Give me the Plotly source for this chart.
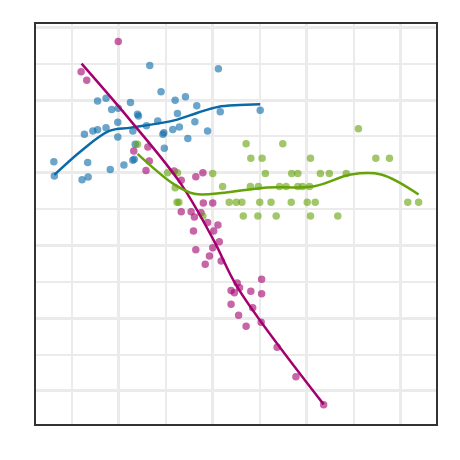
import plotly.graph_objects as go

# group A (blue)
blue_x = [0.62, 0.63, 1.22, 1.35, 1.34, 1.27, 1.45, 1.55, 1.73, 1.55, 1.73, 1.85, 1.99, 1.98, 1.98,
          2.11, 1.82, 2.25, 2.40, 2.42, 2.33, 2.35, 2.66, 2.59, 2.83, 2.90, 2.96, 2.94, 2.97, 3.20,
          3.25, 3.15, 3.29, 3.42, 3.47, 3.62, 3.66, 3.89, 4.12, 4.16, 5.01, 2.30, 2.30]
blue_y = [7.30, 6.91, 6.81, 6.88, 7.28, 8.06, 8.15, 8.18, 8.24, 8.97, 9.05, 8.74, 8.77, 8.39, 7.98,
          7.21, 7.09, 8.93, 8.61, 8.56, 7.37, 7.78, 9.95, 8.29, 8.42, 9.23, 8.10, 8.06, 7.67, 8.99,
          8.63, 8.19, 8.26, 9.09, 7.94, 8.40, 8.84, 8.15, 9.86, 8.68, 8.72, 8.15, 7.34]
blue_fit_x = [0.63, 1.2, 1.8, 2.26, 3.18, 3.68, 4.11, 5.01]
blue_fit_y = [6.94, 7.6, 8.15, 8.24, 8.44, 8.65, 8.81, 8.88]

# group B (magenta)
mag_x = [1.20, 1.32, 1.99, 2.58, 2.62, 2.65, 2.32, 3.18, 3.33, 3.64, 3.79, 3.80, 4.00, 3.33, 3.54,
         3.61, 3.75, 3.89, 4.11, 4.02, 3.59, 4.14, 4.00, 3.64, 3.93, 4.18, 3.84, 4.52, 4.39, 4.57,
         4.46, 4.81, 5.04, 5.04, 4.85, 4.39, 4.55, 4.71, 5.03, 5.37, 5.77, 6.36]
mag_y = [9.78, 9.54, 10.61, 7.06, 7.71, 7.32, 7.60, 7.05, 6.79, 6.89, 7.00, 6.17, 6.17, 5.93, 5.93,
         5.78, 5.90, 5.63, 5.56, 5.40, 5.40, 5.10, 4.94, 4.88, 4.71, 4.57, 4.48, 3.97, 3.76, 3.84,
         3.70, 3.74, 4.07, 3.67, 3.29, 3.38, 3.08, 2.78, 2.89, 2.20, 1.39, 0.62]
mag_fit_x = [1.21, 2.26, 3.33, 4.03, 4.53, 6.36]
mag_fit_y = [10.00, 8.42, 6.68, 5.12, 3.84, 0.63]

# group C (green)
green_x = [2.40, 4.71, 5.49, 7.10, 4.81, 5.05, 6.08, 7.47, 7.76, 3.04, 3.25, 4.00, 5.12, 5.68, 5.81,
           6.29, 6.48, 6.84, 4.21, 4.80, 4.97, 5.42, 5.56, 5.81, 5.91, 6.06, 3.24, 3.28, 4.35, 4.50,
           4.62, 5.00, 5.24, 5.67, 6.01, 6.18, 8.15, 8.38, 4.65, 4.96, 5.35, 6.08, 6.66, 3.79, 3.20]
green_y = [7.78, 7.80, 7.80, 8.21, 7.40, 7.40, 7.40, 7.40, 7.40, 7.00, 7.00, 6.98, 6.98, 6.98, 6.98,
           6.98, 6.98, 6.98, 6.62, 6.62, 6.62, 6.62, 6.62, 6.62, 6.62, 6.62, 6.19, 6.19, 6.19, 6.19,
           6.19, 6.19, 6.19, 6.19, 6.19, 6.19, 6.19, 6.19, 5.81, 5.81, 5.81, 5.81, 5.81, 5.81, 6.59]
green_fit_x = [2.40, 3.18, 3.61, 4.25, 5.10, 6.16, 6.94, 7.58, 8.38]
green_fit_y = [7.52, 6.68, 6.42, 6.45, 6.59, 6.63, 6.95, 6.95, 6.40]

groups = [
    (blue_x, blue_y, blue_fit_x, blue_fit_y, '#0a6aa8'),
    (mag_x, mag_y, mag_fit_x, mag_fit_y, '#a3006e'),
    (green_x, green_y, green_fit_x, green_fit_y, '#66a30a'),
]

fig = go.Figure()
for px, py, fx, fy, col in groups:
    fig.add_trace(go.Scatter(x=px, y=py, mode='markers',
                             marker=dict(size=6, color=col, opacity=0.6,
                                         line=dict(width=1.5, color=col)),
                             showlegend=False))
for px, py, fx, fy, col in groups:
    fig.add_trace(go.Scatter(x=fx, y=fy, mode='lines', line=dict(color=col, width=2.5, shape='spline'),
                             showlegend=False))

fig.update_xaxes(range=[0.24, 8.75], showticklabels=False, ticks='', zeroline=False,
                 tick0=0, dtick=2, gridcolor='#ebebeb', gridwidth=3,
                 minor=dict(dtick=1, tick0=0, showgrid=True, gridcolor='#ebebeb', gridwidth=2),
                 showline=True, linecolor='#333333', linewidth=2, mirror=True)
fig.update_yaxes(range=[0.09, 11.09], showticklabels=False, ticks='', zeroline=False,
                 tick0=1, dtick=2, gridcolor='#ebebeb', gridwidth=3,
                 minor=dict(dtick=1, tick0=0, showgrid=True, gridcolor='#ebebeb', gridwidth=2),
                 showline=True, linecolor='#333333', linewidth=2, mirror=True)

fig.update_layout(width=460, height=460, margin=dict(l=28, r=32, t=16, b=44),
                  plot_bgcolor='white', paper_bgcolor='white')

fig.write_html("out.html")
